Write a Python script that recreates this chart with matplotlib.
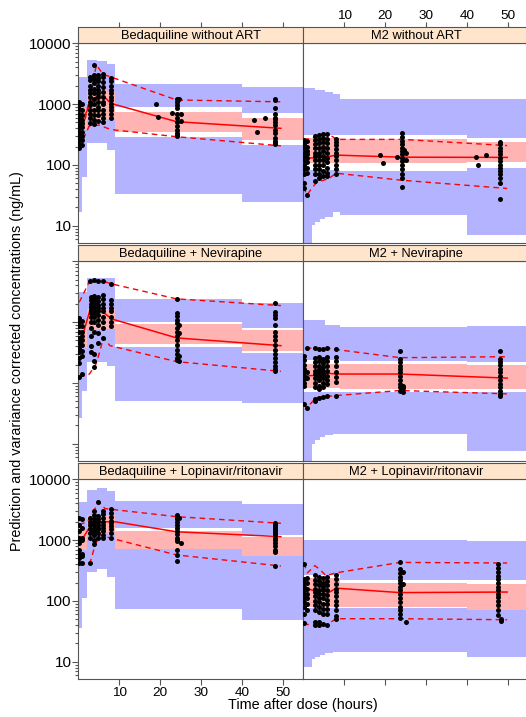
import numpy as np
import matplotlib
matplotlib.use('Agg')
import matplotlib.pyplot as plt
from matplotlib.ticker import LogLocator, NullFormatter, FixedLocator, FixedFormatter

plt.rcParams['font.family'] = ['Liberation Sans', 'DejaVu Sans']

# ---- bins (hours) ----
edges_bdq = [0, 0.8, 2.2, 4.6, 7.1, 8.9, 40, 55]
edges_m2 = [0, 2.0, 2.8, 4.0, 5.3, 7.3, 8.9, 40, 55]

# ---- simulated prediction intervals per bin (ng/mL) ----
# order: CI of 95th pct (top, bottom), CI of median (top, bottom), CI of 5th pct (top, bottom)
p1_hi_top = [2820, 2820, 5300, 5100, 4570, 2140, 1890]
p1_hi_bot = [850, 850, 1700, 1700, 1600, 906, 706]
p1_md_top = [850, 850, 1700, 1700, 1600, 750, 597]
p1_md_bot = [380, 380, 560, 560, 560, 351, 257]
p1_lo_top = [380, 380, 560, 560, 560, 291, 212]
p1_lo_bot = [17, 64, 226, 226, 176, 33, 25]

p2_hi_top = [1820, 1820, 1710, 1710, 1600, 1460, 1200, 1200]
p2_hi_bot = [315, 315, 315, 315, 315, 315, 309, 273]
p2_md_top = [275, 275, 275, 275, 275, 275, 263, 240]
p2_md_bot = [108, 108, 108, 108, 108, 108, 109, 113]
p2_lo_top = [82, 82, 82, 82, 82, 82, 80, 90]
p2_lo_bot = [4, 10.3, 11.5, 13, 14, 17, 15, 7]

p3_hi_top = [3090, 3090, 5330, 5330, 5400, 2410, 2050]
p3_hi_bot = [1000, 1000, 1670, 1670, 1670, 1020, 800]
p3_md_top = [1000, 1000, 1670, 1670, 1670, 935, 740]
p3_md_bot = [380, 380, 780, 780, 780, 437, 340]
p3_lo_top = [380, 380, 780, 780, 780, 395, 308]
p3_lo_bot = [26, 75, 219, 219, 193, 50, 47]

p4_hi_top = [1090, 1090, 1090, 1090, 890, 890, 820, 870]
p4_hi_bot = [240, 240, 240, 240, 240, 240, 233, 219]
p4_md_top = [205, 205, 205, 205, 205, 205, 205, 200]
p4_md_bot = [82, 82, 82, 82, 82, 82, 80, 78]
p4_lo_top = [72, 72, 72, 72, 72, 72, 71, 71]
p4_lo_bot = [4, 10, 11.7, 13, 14, 14.5, 14.5, 7.5]

p5_hi_top = [4280, 4280, 6670, 7110, 6500, 4450, 3930]
p5_hi_bot = [1470, 1470, 2600, 2600, 2600, 1560, 1210]
p5_md_top = [1470, 1470, 2600, 2600, 2600, 1410, 1110]
p5_md_bot = [700, 700, 1310, 1310, 1310, 705, 550]
p5_lo_top = [720, 720, 1330, 1330, 1330, 725, 575]
p5_lo_bot = [35.5, 110, 302, 340, 250, 74, 48]

p6_hi_top = [1000, 1000, 1000, 1000, 1000, 1000, 1000, 960]
p6_hi_bot = [270, 270, 270, 270, 270, 270, 220, 218]
p6_md_top = [240, 240, 240, 240, 240, 240, 200, 190]
p6_md_bot = [80, 80, 80, 80, 80, 80, 80, 72]
p6_lo_top = [76, 76, 76, 76, 76, 76, 76, 74]
p6_lo_bot = [8.3, 11, 12, 13, 14, 14.6, 14.6, 12]

# ---- observed percentiles (x, y) ----
p1_med_x = [0.2, 2.6, 4.6, 6.3, 7.9, 24, 49.5]
p1_med = [420, 906, 1410, 1325, 1030, 514, 400]
p1_up_x = [0.2, 4.4, 6.0, 8.9, 24, 49.5]
p1_up = [190, 4400, 3100, 2650, 1170, 1090]
p1_lw_x = [0.2, 2.6, 5.0, 7.1, 8.9, 24, 49.5]
p1_lw = [190, 430, 453, 400, 375, 291, 206]

p2_med_x = [0.0, 2.4, 6.1, 8.0, 24, 49.8]
p2_med = [130, 130, 137, 145, 134, 133]
p2_up_x = [0.0, 2.4, 4.0, 6.1, 7.2, 8.0, 24, 49.8]
p2_up = [257, 280, 300, 318, 290, 263, 263, 208]
p2_lw_x = [0.0, 0.9, 2.0, 3.3, 6.1, 8.0, 24, 49.8]
p2_lw = [43, 32, 41, 52, 59, 73, 56, 41]

p3_med_x = [0.2, 2.8, 4.1, 6.1, 8.1, 24, 49.5]
p3_med = [386, 1550, 1650, 1450, 1130, 550, 410]
p3_up_x = [0.2, 2.8, 4.1, 6.1, 8.1, 24, 49.5]
p3_up = [2120, 4800, 4750, 4700, 4250, 2410, 1870]
p3_lw_x = [0.2, 2.7, 4.3, 5.3, 6.1, 7.7, 24, 49.5]
p3_lw = [123, 140, 205, 340, 562, 410, 224, 155]

p4_med_x = [0.0, 2.4, 6.1, 8.0, 23.6, 49.8]
p4_med = [132, 132, 144, 140, 140, 120]
p4_up_x = [0.6, 2.4, 3.6, 4.9, 6.1, 8.0, 23.6, 49.8]
p4_up = [370, 375, 365, 355, 375, 354, 260, 270]
p4_lw_x = [0.0, 0.9, 2.4, 3.6, 6.1, 8.0, 23.6, 49.8]
p4_lw = [45, 39, 51, 58, 60, 62, 75, 66]

p5_med_x = [0.2, 1.2, 2.8, 4.5, 6.1, 9.0, 24, 49.5]
p5_med = [1000, 1100, 1660, 2000, 2000, 2000, 1370, 1140]
p5_up_x = [0.2, 2.2, 5.0, 6.5, 8.0, 24, 49.5]
p5_up = [1800, 2000, 4280, 3300, 3210, 2430, 1890]
p5_lw_x = [0.2, 2.8, 4.1, 5.3, 8.1, 24, 49.5]
p5_lw = [414, 414, 830, 1210, 1070, 570, 375]

p6_med_x = [0.0, 1.6, 3.2, 4.4, 5.6, 8.0, 23.6, 49.8]
p6_med = [155, 155, 142, 130, 130, 162, 137, 140]
p6_up_x = [0.1, 1.0, 2.8, 4.0, 5.5, 8.0, 23.6, 49.8]
p6_up = [420, 290, 380, 330, 260, 290, 430, 420]
p6_lw_x = [0.0, 1.6, 3.6, 5.6, 8.0, 23.6, 49.8]
p6_lw = [43, 40, 40, 40, 51, 51, 49]

# ---- observations ----
p1_t = [0.2, 1.0, 2.9, 3.9, 4.9, 5.9, 8.0, 19.0, 19.5, 22.8, 24.0, 24.5, 25.1, 43.0, 43.6, 45.6, 48.0]
p1_c = [[1100, 950, 820, 700, 600, 520, 450, 400, 350, 300, 260, 220, 190],
        [1000, 800, 650, 550, 480, 420, 350, 300, 260, 210],
        [2800, 2500, 2000, 1700, 1500, 1300, 1100, 950, 800, 700, 600, 480],
        [4400, 3000, 2600, 2200, 1800, 1500, 1200, 1000, 800, 650, 550, 470],
        [3000, 2700, 2400, 2000, 1700, 1500, 1300, 1100, 900, 800, 650, 520],
        [3100, 2800, 2300, 1900, 1600, 1300, 1100, 1000, 800, 700, 580, 500],
        [2700, 2400, 2000, 1700, 1500, 1300, 1150, 1000, 900, 800, 700, 600],
        [1000], [605], [706],
        [1200, 1100, 950, 850, 700, 600, 500, 430, 380, 340, 310, 300],
        [1200], [680, 520],
        [550], [351], [600],
        [1200, 1150, 850, 700, 600, 560, 500, 450, 380, 330, 280, 250, 230, 220]]

p2_t = [0.1, 0.9, 2.8, 3.9, 4.9, 5.8, 8.0, 18.8, 19.5, 22.9, 24.0, 24.6, 25.0, 42.1, 42.8, 44.6, 48.0]
p2_c = [[260, 220, 190, 160, 140, 120, 100, 85, 70, 50, 41],
        [250, 200, 170, 150, 130, 110, 90, 75, 32],
        [300, 260, 220, 190, 160, 140, 120, 100, 85, 70, 55],
        [310, 270, 230, 190, 160, 140, 120, 100, 85, 70, 60],
        [320, 280, 240, 200, 170, 140, 120, 100, 80, 65],
        [320, 270, 230, 190, 160, 130, 110, 90, 75, 65],
        [270, 240, 210, 180, 160, 140, 120, 100, 85, 72],
        [145], [109], [134],
        [330, 290, 250, 220, 190, 170, 150, 130, 115, 100, 85, 70, 60, 44],
        [175], [160, 120],
        [137], [98], [145],
        [240, 220, 190, 170, 150, 130, 115, 100, 90, 80, 70, 60, 50, 28]]

p3_t = [0.2, 1.0, 2.8, 3.2, 3.9, 4.9, 5.9, 8.0, 24.0, 24.6, 48.0]
p3_c = [[1150, 1000, 850, 700, 550, 450, 380, 320, 260, 210, 125],
        [1050, 850, 700, 600, 500, 420, 330, 280, 140],
        [4800],
        [2600, 2300, 2000, 1800, 1600, 1400, 1200, 1000, 800, 600, 400, 320],
        [4900, 2700, 2400, 2100, 1800, 1600, 1400, 1200, 1000, 700, 300, 230, 180],
        [4700, 2600, 2200, 1900, 1700, 1500, 1300, 1100, 900, 650, 450],
        [4800, 2800, 2400, 2000, 1700, 1500, 1200, 1000, 800, 550],
        [4300, 2300, 2000, 1700, 1500, 1200, 1000, 850],
        [2400, 1400, 1250, 1100, 950, 800, 700, 600, 500, 420, 350, 300, 260, 240],
        [900, 650, 280, 230],
        [2100, 1450, 1300, 1150, 900, 700, 600, 500, 420, 350, 300, 260, 220, 190, 170, 155]]

p4_t = [0.1, 0.9, 2.8, 3.9, 4.9, 5.8, 8.0, 23.6, 24.4, 48.0]
p4_c = [[280, 240, 200, 170, 150, 130, 115, 100, 90, 45],
        [380, 150, 120, 38],
        [375, 260, 220, 190, 160, 140, 120, 100, 85, 55, 50],
        [360, 270, 230, 190, 170, 150, 130, 110, 90, 80, 57],
        [355, 250, 210, 180, 160, 140, 120, 100, 85, 58],
        [380, 270, 230, 190, 160, 130, 110, 95, 60],
        [360, 270, 230, 190, 150, 125, 105, 62],
        [340, 250, 220, 190, 170, 150, 130, 110, 95, 85, 75],
        [90, 81, 72],
        [340, 250, 220, 200, 170, 150, 130, 110, 95, 85, 75, 65, 60]]

p5_t = [0.2, 1.0, 2.9, 3.9, 4.9, 5.9, 8.0, 24.0, 24.6, 25.1, 48.0]
p5_c = [[2300, 1800, 1400, 1100, 1000, 900, 700, 600, 500, 420],
        [2200, 1600, 1100, 1000, 600, 550, 420],
        [2300, 2000, 1800, 1500, 1300, 1100, 420],
        [3000, 2600, 2200, 2000, 1800, 1600, 1400, 1200, 1000, 850],
        [4200, 2500, 2200, 2000, 1800, 1600, 1500, 1300, 1100],
        [3000, 2700, 2300, 2000, 1800, 1600, 1400, 1200, 1100],
        [3200, 2800, 2400, 2100, 1900, 1700, 1500, 1300, 1100],
        [2600, 2400, 2200, 2000, 1800, 1600, 1400, 1250, 1100, 1000, 950, 700, 560, 450],
        [2300],
        [900],
        [1900, 1800, 1650, 1500, 1400, 1300, 1200, 1100, 1000, 900, 800, 700, 660, 640, 375]]

p6_t = [0.1, 0.9, 2.8, 3.9, 4.9, 5.8, 8.0, 23.6, 24.4, 25.2, 47.6, 48.2]
p6_c = [[400, 230, 200, 170, 150, 130, 110, 95, 80, 60, 43],
        [240, 200, 160, 130, 110, 90, 70],
        [270, 220, 190, 160, 140, 120, 100, 85, 70, 45, 40],
        [250, 210, 180, 150, 130, 110, 95, 80, 65, 45, 40],
        [240, 200, 170, 150, 130, 110, 90, 75, 60, 42],
        [250, 210, 180, 150, 125, 105, 90, 75, 62, 40],
        [270, 230, 190, 160, 140, 120, 100, 85, 70, 56, 50],
        [430, 330, 290, 250, 220, 200, 170, 150, 130, 110, 95, 80, 70, 60, 52],
        [300, 190],
        [45],
        [410, 350, 300, 260, 230, 200, 170, 150, 130, 115, 100, 85, 70, 58],
        [50, 47]]

titles = ['Bedaquiline without ART', 'M2 without ART',
          'Bedaquiline + Nevirapine', 'M2 + Nevirapine',
          'Bedaquiline + Lopinavir/ritonavir', 'M2 + Lopinavir/ritonavir']

panels = [
    (edges_bdq, (p1_hi_top, p1_hi_bot, p1_md_top, p1_md_bot, p1_lo_top, p1_lo_bot),
     (p1_med_x, p1_med, p1_up_x, p1_up, p1_lw_x, p1_lw), p1_t, p1_c),
    (edges_m2, (p2_hi_top, p2_hi_bot, p2_md_top, p2_md_bot, p2_lo_top, p2_lo_bot),
     (p2_med_x, p2_med, p2_up_x, p2_up, p2_lw_x, p2_lw), p2_t, p2_c),
    (edges_bdq, (p3_hi_top, p3_hi_bot, p3_md_top, p3_md_bot, p3_lo_top, p3_lo_bot),
     (p3_med_x, p3_med, p3_up_x, p3_up, p3_lw_x, p3_lw), p3_t, p3_c),
    (edges_m2, (p4_hi_top, p4_hi_bot, p4_md_top, p4_md_bot, p4_lo_top, p4_lo_bot),
     (p4_med_x, p4_med, p4_up_x, p4_up, p4_lw_x, p4_lw), p4_t, p4_c),
    (edges_bdq, (p5_hi_top, p5_hi_bot, p5_md_top, p5_md_bot, p5_lo_top, p5_lo_bot),
     (p5_med_x, p5_med, p5_up_x, p5_up, p5_lw_x, p5_lw), p5_t, p5_c),
    (edges_m2, (p6_hi_top, p6_hi_bot, p6_md_top, p6_md_bot, p6_lo_top, p6_lo_bot),
     (p6_med_x, p6_med, p6_up_x, p6_up, p6_lw_x, p6_lw), p6_t, p6_c),
]

BLUE = '#B3B3FF'
PINK = '#FFB3B3'
STRIP = '#FFE5CC'
FRAME = '#555555'
W, H = 526, 717
XLIM = (0, 55)
YLIM = (5.14, 10000)
xt = [10, 20, 30, 40, 50]


def box(x0, top, w, h):
    return [x0 / W, 1 - (top + h) / H, w / W, h / H]


def step(v):
    return np.append(v, v[-1])


fig = plt.figure(figsize=(W / 100, H / 100), dpi=100)

col_x = [78.4, 303.4]
colw = 225
for i, (edges, bands, lines, times, conc) in enumerate(panels):
    row, col = divmod(i, 2)
    top = 43.3 + 218 * row
    ax = fig.add_axes(box(col_x[col], top, colw, 200))
    sax = fig.add_axes(box(col_x[col], top - 16.2, colw, 16.2))

    e = np.array(edges, dtype=float)
    hi_t, hi_b, md_t, md_b, lo_t, lo_b = bands
    ax.fill_between(e, step(hi_b), step(hi_t), step='post', color=BLUE, lw=0, zorder=1)
    ax.fill_between(e, step(lo_b), step(lo_t), step='post', color=BLUE, lw=0, zorder=1)
    ax.fill_between(e, step(md_b), step(md_t), step='post', color=PINK, lw=0, zorder=2)

    mx, my, ux, uy, lx, ly = lines
    ax.plot(mx, my, color='red', lw=1.1, zorder=3)
    ax.plot(ux, uy, color='red', lw=1.0, ls=(0, (4, 3)), zorder=3)
    ax.plot(lx, ly, color='red', lw=1.0, ls=(0, (4, 3)), zorder=3)

    ox = [t for t, cs in zip(times, conc) for _ in cs]
    oy = [c for cs in conc for c in cs]
    ax.plot(ox, oy, 'o', ms=3.6, color='black', mew=0, zorder=4)

    ax.set_yscale('log')
    ax.set_xlim(*XLIM)
    ax.set_ylim(*YLIM)
    ax.xaxis.set_major_locator(FixedLocator(xt))
    ax.yaxis.set_major_locator(FixedLocator([10, 100, 1000, 10000]))
    ax.yaxis.set_major_formatter(FixedFormatter(['10', '100', '1000', '10000']))
    ax.yaxis.set_minor_locator(LogLocator(base=10, subs=np.arange(2, 10), numticks=20))
    ax.yaxis.set_minor_formatter(NullFormatter())
    for s in ax.spines.values():
        s.set_color(FRAME)
        s.set_linewidth(0.8)
    ax.tick_params(which='both', direction='out', color=FRAME, width=0.8,
                   top=False, right=False)
    ax.tick_params(which='major', length=4)
    ax.tick_params(which='minor', length=2.2)
    ax.tick_params(axis='y', labelsize=11, pad=1)
    ax.tick_params(axis='x', labelsize=9.7, pad=1.5)

    if col == 0:
        ax.tick_params(axis='y', which='both', left=True, labelleft=(row != 1))
    else:
        ax.tick_params(axis='y', which='both', left=False, labelleft=False)
    if row == 2:
        ax.tick_params(axis='x', bottom=True, labelbottom=(col == 0))
    else:
        ax.tick_params(axis='x', bottom=False, labelbottom=False)

    # strip
    sax.set_facecolor(STRIP)
    sax.set_xlim(*XLIM)
    sax.set_ylim(0, 1)
    sax.set_yticks([])
    for s in sax.spines.values():
        s.set_color(FRAME)
        s.set_linewidth(0.8)
    sax.text(0.5, 0.47, titles[i], transform=sax.transAxes, ha='center', va='center',
             fontsize=9.3, color='black')
    if row == 0:
        sax.xaxis.set_major_locator(FixedLocator(xt))
        sax.tick_params(axis='x', direction='out', length=3.4, width=0.8, color=FRAME,
                        bottom=False, labelbottom=False, top=True,
                        labeltop=(col == 1), labelsize=9.7, pad=0.5)
    else:
        sax.set_xticks([])

fig.text(17 / W, 1 - 361 / H, 'Prediction and varariance corrected concentrations (ng/mL)',
         rotation=90, ha='center', va='center', fontsize=10.4)
fig.text(303 / W, 1 - 705 / H, 'Time after dose (hours)', ha='center', va='center',
         fontsize=10.4)

fig.savefig('out.png', dpi=100)
